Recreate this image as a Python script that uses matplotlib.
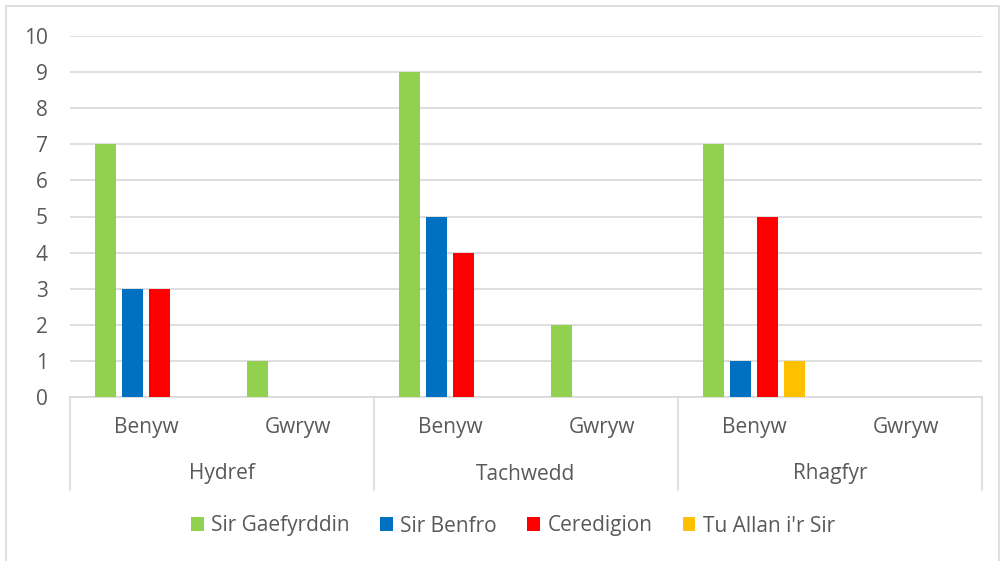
import numpy as np
import matplotlib
matplotlib.use("Agg")
import matplotlib.pyplot as plt
from matplotlib.patches import Rectangle
from matplotlib.transforms import blended_transform_factory

# Data
months = ["Hydref", "Tachwedd", "Rhagfyr"]
genders = ["Benyw", "Gwryw"]
series_names = ["Sir Gaefyrddin", "Sir Benfro", "Ceredigion", "Tu Allan i'r Sir"]
sir_gaefyrddin = [7, 1, 9, 2, 7, 0]
sir_benfro = [3, 0, 5, 0, 1, 0]
ceredigion = [3, 0, 4, 0, 5, 0]
tu_allan = [0, 0, 0, 0, 1, 0]
colors = ["#92D050", "#0070C0", "#FF0000", "#FFC000"]

plt.rcParams["font.family"] = ["Open Sans", "DejaVu Sans"]
text_col = "#595959"
grid_col = "#d9d9d9"
fs = 15

W, H = 1001, 561
fig = plt.figure(figsize=(W / 100, H / 100), dpi=100)
ax = fig.add_axes([70 / W, 1 - 397 / H, (982 - 70) / W, (397 - 36) / H])

values = [sir_gaefyrddin, sir_benfro, ceredigion, tu_allan]
n_cat = len(months) * len(genders)
x = np.arange(n_cat) + 0.5
bw = 0.14
step = 0.178
for i, (name, vals, c) in enumerate(zip(series_names, values, colors)):
    ax.bar(x + (i - 1.5) * step, vals, width=bw, color=c, label=name, zorder=3)

ax.set_xlim(0, n_cat)
ax.set_ylim(0, 10)
ax.set_yticks(range(0, 11))
ax.yaxis.grid(True, color=grid_col, lw=1.2, zorder=0)
ax.set_xticks([])
for s in ["left", "right", "top"]:
    ax.spines[s].set_visible(False)
ax.spines["bottom"].set_color(grid_col)
ax.spines["bottom"].set_linewidth(1.2)
ax.tick_params(axis="y", length=0, pad=16, labelsize=fs, labelcolor=text_col)

# Multi-level category axis
tr = blended_transform_factory(ax.transData, ax.transAxes)
bottom = -(490 - 397) / (397 - 36)
for xv in range(0, n_cat + 1, 2):
    ax.plot([xv, xv], [0, bottom], transform=tr, color=grid_col, lw=1.2, clip_on=False)
for j in range(n_cat):
    ax.text(x[j], -(428 - 397) / (397 - 36), genders[j % 2], transform=tr,
            ha="center", va="center", fontsize=fs, color=text_col)
for m, name in enumerate(months):
    ax.text(2 * m + 1, -(474 - 397) / (397 - 36), name, transform=tr,
            ha="center", va="center", fontsize=fs, color=text_col)

# Legend
fig.legend(loc="center", bbox_to_anchor=(513 / W, 1 - 526 / H), ncol=4, frameon=False,
           fontsize=fs, labelcolor=text_col, handlelength=0.62, handleheight=0.62,
           handletextpad=0.35, columnspacing=1.45)

# Chart border
fig.patches.append(Rectangle((6 / W, -0.01), (999 - 6) / W, 1 - 6 / H + 0.01,
                             transform=fig.transFigure, fill=False,
                             edgecolor=grid_col, lw=1.2))

fig.savefig("out.png", dpi=100)
